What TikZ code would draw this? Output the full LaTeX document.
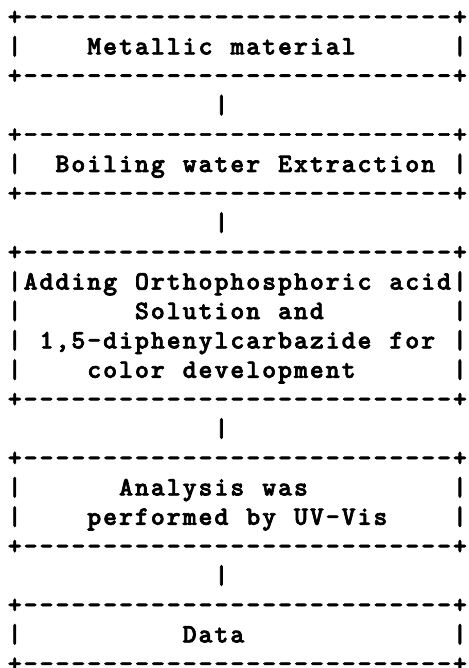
\documentclass[tikz,border=0pt]{standalone}
\usepackage{fontspec}
\newfontfamily\asciitt{lmmonolt10-bold.otf}[FakeBold=2.5]
\newdimen\asciicw
\asciicw=15.9pt
\ExplSyntaxOn
\NewDocumentCommand\asciirow{m}{\tl_map_inline:nn {#1} {\makebox[\asciicw][c]{##1}}}
\ExplSyntaxOff
\def\dashline{+---------------------------+}
\begin{document}
\begin{tikzpicture}[x=1pt,y=-1pt,
  asciiline/.style={anchor=base west, inner sep=0pt, outer sep=0pt,
    font=\asciitt\fontsize{26.5}{29.4}\selectfont}]
\useasboundingbox (0,0) rectangle (468,668);
\def\lx{6.8}
\def\by{25.0}
\def\dy{29.4}
\node[asciiline] (l01) at (\lx,\by+\dy*0)  {\expandafter\asciirow\expandafter{\dashline}};
\node[asciiline] (l02) at (\lx,\by+\dy*1)  {\asciirow{|~~~~Metallic~material~~~~~~|}};
\node[asciiline] (l03) at (\lx,\by+\dy*2)  {\expandafter\asciirow\expandafter{\dashline}};
\node[asciiline] (l04) at (\lx,\by+\dy*3)  {\asciirow{~~~~~~~~~~~~~|}};
\node[asciiline] (l05) at (\lx,\by+\dy*4)  {\expandafter\asciirow\expandafter{\dashline}};
\node[asciiline] (l06) at (\lx,\by+\dy*5)  {\asciirow{|~~Boiling~water~Extraction~|}};
\node[asciiline] (l07) at (\lx,\by+\dy*6)  {\expandafter\asciirow\expandafter{\dashline}};
\node[asciiline] (l08) at (\lx,\by+\dy*7)  {\asciirow{~~~~~~~~~~~~~|}};
\node[asciiline] (l09) at (\lx,\by+\dy*8)  {\expandafter\asciirow\expandafter{\dashline}};
\node[asciiline] (l10) at (\lx,\by+\dy*9)  {\asciirow{|Adding~Orthophosphoric~acid|}};
\node[asciiline] (l11) at (\lx,\by+\dy*10) {\asciirow{|~~~~~~~Solution~and~~~~~~~~|}};
\node[asciiline] (l12) at (\lx,\by+\dy*11) {\asciirow{|~1,5-diphenylcarbazide~for~|}};
\node[asciiline] (l13) at (\lx,\by+\dy*12) {\asciirow{|~~~~color~development~~~~~~|}};
\node[asciiline] (l14) at (\lx,\by+\dy*13) {\expandafter\asciirow\expandafter{\dashline}};
\node[asciiline] (l15) at (\lx,\by+\dy*14) {\asciirow{~~~~~~~~~~~~~|}};
\node[asciiline] (l16) at (\lx,\by+\dy*15) {\expandafter\asciirow\expandafter{\dashline}};
\node[asciiline] (l17) at (\lx,\by+\dy*16) {\asciirow{|~~~~~~Analysis~was~~~~~~~~~|}};
\node[asciiline] (l18) at (\lx,\by+\dy*17) {\asciirow{|~~~~performed~by~UV-Vis~~~~|}};
\node[asciiline] (l19) at (\lx,\by+\dy*18) {\expandafter\asciirow\expandafter{\dashline}};
\node[asciiline] (l20) at (\lx,\by+\dy*19) {\asciirow{~~~~~~~~~~~~~|}};
\node[asciiline] (l21) at (\lx,\by+\dy*20) {\expandafter\asciirow\expandafter{\dashline}};
\node[asciiline] (l22) at (\lx,\by+\dy*21) {\asciirow{|~~~~~~~~~~Data~~~~~~~~~~~~~|}};
\node[asciiline] (l23) at (\lx,\by+\dy*22) {\expandafter\asciirow\expandafter{\dashline}};
\end{tikzpicture}
\end{document}
